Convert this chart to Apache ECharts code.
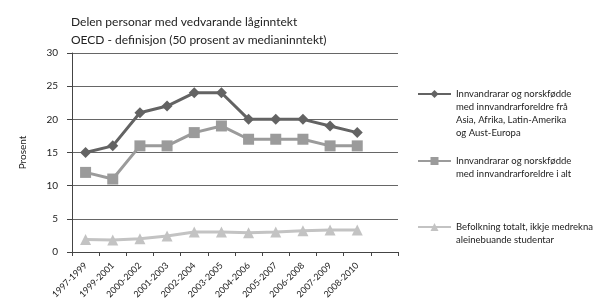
<!DOCTYPE html>
<html><head><meta charset="utf-8">
<script src="https://cdn.jsdelivr.net/npm/echarts@6/dist/echarts.min.js"></script>
<style>html,body{margin:0;padding:0;background:#fff}#c{width:600px;height:299px}</style>
</head><body><div id="c"></div>
<script>
var categories = ['1997-1999','1999-2001','2000-2002','2001-2003','2002-2004','2003-2005','2004-2006','2005-2007','2006-2008','2007-2009','2008-2010'];
var seriesNames = [
  'Innvandrarar og norskfødde\nmed innvandrarforeldre frå\nAsia, Afrika, Latin-Amerika\nog Aust-Europa',
  'Innvandrarar og norskfødde\nmed innvandrarforeldre i alt',
  'Befolkning totalt, ikkje medrekna\naleinebuande studentar'
];
var asiaAfrika = [15,16,21,22,24,24,20,20,20,19,18];
var innvandrarAlt = [12,11,16,16,18,19,17,17,17,16,16];
var befolkning = [1.9,1.8,2.0,2.4,3.0,3.0,2.9,3.0,3.2,3.3,3.3];
var yTicks = [0,5,10,15,20,25,30];
var titleLines = ['Delen personar med vedvarande låginntekt','OECD - definisjon (50 prosent av medianinntekt)'];

var font = 'Lato';
var cats = categories.concat(['']);
var chart = echarts.init(document.getElementById('c'));
function mk(name, data, color, symbol, size){
  return {name:name, type:'line', data:data, symbol:symbol, symbolSize:size,
    lineStyle:{color:color, width:3}, itemStyle:{color:color}, animation:false};
}
var iconY = [92, 159, 225];
var LH = 13;
chart.setOption({
  animation:false,
  title:{text:titleLines.join('\n'), left:66, top:8,
    textStyle:{fontFamily:font, fontSize:12, fontWeight:'normal', color:'#222', lineHeight:18}},
  grid:{left:72, right:202, top:53, bottom:47, outerBoundsMode:'none', containLabel:false},
  xAxis:{type:'category', data:cats, boundaryGap:true,
    axisLine:{lineStyle:{color:'#444'}}, axisTick:{show:true, alignWithLabel:false, length:4, lineStyle:{color:'#444'}},
    axisLabel:{rotate:45, fontFamily:font, fontSize:9, color:'#222', margin:12, interval:0}},
  yAxis:{type:'value', min:0, max:30, interval:5, name:'Prosent', nameLocation:'middle', nameGap:44,
    nameTextStyle:{fontFamily:font, fontSize:10, color:'#222'},
    axisLine:{show:true, lineStyle:{color:'#444'}}, axisTick:{show:true, length:5, lineStyle:{color:'#444'}},
    axisLabel:{fontFamily:font, fontSize:10, color:'#222', margin:14},
    splitLine:{lineStyle:{color:'#666', width:1}}},
  legend:seriesNames.map(function(n,i){
    var lines = n.split('\n').length;
    var pre = new Array(lines).join('\n');
    var total = 2*lines - 1;
    return {data:[n], left:417, top:iconY[i] - total*LH/2 + 2, orient:'vertical', itemWidth:33, itemHeight:10, itemGap:0,
      padding:0,
      formatter:function(name){ return pre + name; },
      textStyle:{fontFamily:font, fontSize:9.5, color:'#222', lineHeight:LH}, selectedMode:false};
  }),
  series:[
    mk(seriesNames[0], asiaAfrika, '#636363', 'diamond', 11),
    mk(seriesNames[1], innvandrarAlt, '#9b9b9b', 'rect', 11),
    mk(seriesNames[2], befolkning, '#c3c3c3', 'triangle', 11)
  ]
});
</script></body></html>
